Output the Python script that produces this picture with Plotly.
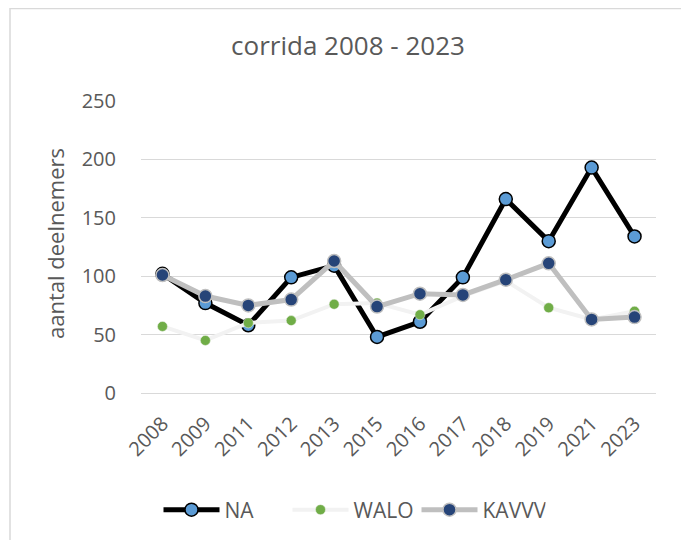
import plotly.graph_objects as go

years = ["2008", "2009", "2011", "2012", "2013", "2015", "2016", "2017", "2018", "2019", "2021", "2023"]
na = [102, 77, 58, 99, 109, 48, 61, 99, 166, 130, 193, 134]
walo = [57, 45, 60, 62, 76, 77, 67, 83, 96, 73, 63, 70]
kavvv = [101, 83, 75, 80, 113, 74, 85, 84, 97, 111, 63, 65]
y_ticks = [0, 50, 100, 150, 200, 250]

FONT = "Open Sans"
GREY = "#595959"

OFF = 8  # page body margin
W, H = 681, 532
L, R, T, B = 133, 33, 93, 147
pw, ph = W - L - R, H - T - B

def px_to_paper_x(px):
    return (px - OFF - L) / pw

def px_to_paper_y(py):
    return (H - B - (py - OFF)) / ph

fig = go.Figure()
fig.add_trace(go.Scatter(
    x=years, y=na, name="NA", mode="lines+markers",
    line=dict(color="#000000", width=5),
    marker=dict(size=13, color="#5B9BD5", line=dict(color="#000000", width=1.5)),
))
fig.add_trace(go.Scatter(
    x=years, y=walo, name="WALO", mode="lines+markers",
    line=dict(color="#F2F2F2", width=4),
    marker=dict(size=10, color="#70AD47", line=dict(color="#F2F2F2", width=0.5)),
))
fig.add_trace(go.Scatter(
    x=years, y=kavvv, name="KAVVV", mode="lines+markers",
    line=dict(color="#BFBFBF", width=5),
    marker=dict(size=13, color="#264478", line=dict(color="#BFBFBF", width=1.5)),
))

fig.update_layout(
    width=W, height=H,
    margin=dict(l=L, r=R, t=T, b=B),
    paper_bgcolor="white", plot_bgcolor="white",
    font=dict(family=FONT, color=GREY),
    title=dict(text="corrida 2008 - 2023", x=(348 - OFF) / W, xref="container", xanchor="center",
               y=1 - (46 - OFF) / H, yref="container", yanchor="middle",
               font=dict(family=FONT, size=26, color=GREY)),
    showlegend=True,
    legend=dict(orientation="h", x=(352 - OFF) / W, xref="container", xanchor="center",
                y=1 - (510 - OFF) / H, yref="container", yanchor="middle",
                font=dict(family=FONT, size=21, color=GREY),
                itemwidth=56, entrywidth=58, entrywidthmode="pixels",
                bgcolor="rgba(0,0,0,0)"),
    xaxis=dict(
        type="category", range=[-0.5, len(years) - 0.5],
        tickangle=-45, tickfont=dict(family=FONT, size=20, color=GREY),
        showgrid=False, zeroline=False, showline=True, linecolor="#D9D9D9", linewidth=1,
        ticks="", ticklabelstandoff=10,
    ),
    yaxis=dict(
        range=[0, 250], tickvals=y_ticks,
        tickfont=dict(family=FONT, size=20, color=GREY),
        showgrid=True, gridcolor="#D9D9D9", gridwidth=1, zeroline=False,
        showline=False, ticks="", ticklabelstandoff=24,
    ),
    annotations=[dict(
        text="aantal deelnemers", textangle=-90, showarrow=False,
        xref="paper", yref="paper", x=px_to_paper_x(55), y=px_to_paper_y(244),
        xanchor="center", yanchor="middle",
        font=dict(family=FONT, size=22, color=GREY),
    )],
    shapes=[dict(
        type="rect", xref="paper", yref="paper",
        x0=px_to_paper_x(10), x1=px_to_paper_x(687),
        y0=px_to_paper_y(600), y1=px_to_paper_y(8.5),
        line=dict(color="#D9D9D9", width=1.5), fillcolor="rgba(0,0,0,0)", layer="below",
    )],
)

fig.write_html("out.html")
